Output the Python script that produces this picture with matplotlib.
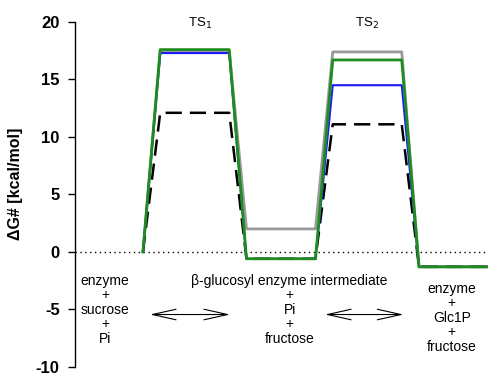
import matplotlib
matplotlib.use('Agg')
import matplotlib.pyplot as plt

plt.rcParams['font.family'] = ['Liberation Sans', 'DejaVu Sans']

# energy levels (kcal/mol) for: start, TS1, intermediate, TS2, end
gray_levels = [0.0, 17.5, 2.0, 17.4, -1.3]
dash_levels = [0.0, 12.1, -0.6, 11.1, -1.3]
blue_levels = [0.0, 17.3, -0.6, 14.5, -1.3]
green_levels = [0.0, 17.6, -0.6, 16.7, -1.3]

# x positions of the corners along the reaction coordinate
x_corners = [0, 1, 5, 6, 10, 11, 15, 16, 20]

y_ticks = [-10, -5, 0, 5, 10, 15, 20]

state_labels = ['enzyme\n+\nsucrose\n+\nPi',
                '\u03b2-glucosyl enzyme intermediate\n+\nPi\n+\nfructose',
                'enzyme\n+\nGlc1P\n+\nfructose']


def profile(levels):
    s0, ts1, mid, ts2, end = levels
    return [s0, ts1, ts1, mid, mid, ts2, ts2, end, end]


fig = plt.figure(figsize=(4.88, 3.77), dpi=100)
ax = fig.add_axes([0.1537, 0.027, 0.8463, 0.9146])

ax.axhline(0, color='black', linestyle=(0, (1, 2.5)), linewidth=1.0, zorder=1)

ax.plot(x_corners, profile(gray_levels), color='#999999', linewidth=2.0, zorder=2)
ax.plot(x_corners, profile(dash_levels), color='black', linewidth=1.8,
        linestyle=(0, (6.5, 3.2)), zorder=3)
ax.plot(x_corners, profile(blue_levels), color='#1a1aff', linewidth=1.5, zorder=4)
ax.plot(x_corners, profile(green_levels), color='#1e8c1e', linewidth=2.0, zorder=5)

ax.text(3.3, 19.9, 'TS$_1$', ha='center', va='center', fontsize=9.5)
ax.text(13.0, 19.9, 'TS$_2$', ha='center', va='center', fontsize=9.5)

ax.text(-2.2, -1.9, state_labels[0], ha='center', va='top', fontsize=10, linespacing=1.05)
ax.text(8.5, -1.9, state_labels[1], ha='center', va='top', fontsize=10, linespacing=1.05)
ax.text(17.9, -2.6, state_labels[2], ha='center', va='top', fontsize=10, linespacing=1.05)

for x0, x1 in [(0.4, 5.05), (10.55, 15.1)]:
    ax.annotate('', xy=(x1, -5.45), xytext=(x0, -5.45),
                arrowprops=dict(arrowstyle='<->,head_length=1.7,head_width=0.38',
                                color='black', linewidth=0.8, shrinkA=0, shrinkB=0))

ax.set_xlim(-3.94, 20)
ax.set_ylim(-10, 20)
ax.set_yticks(y_ticks)
ax.set_yticklabels([str(t) for t in y_ticks], fontweight='bold', fontsize=12)
ax.set_ylabel('\u0394G# [kcal/mol]', fontweight='bold', fontsize=11.5)
ax.yaxis.set_label_coords(-0.125, 0.53)
ax.set_xticks([])
for side in ['top', 'right', 'bottom']:
    ax.spines[side].set_visible(False)
ax.spines['left'].set_linewidth(1.0)
ax.tick_params(axis='y', length=5, width=1.0, pad=6)

fig.savefig('out.png', dpi=100)
